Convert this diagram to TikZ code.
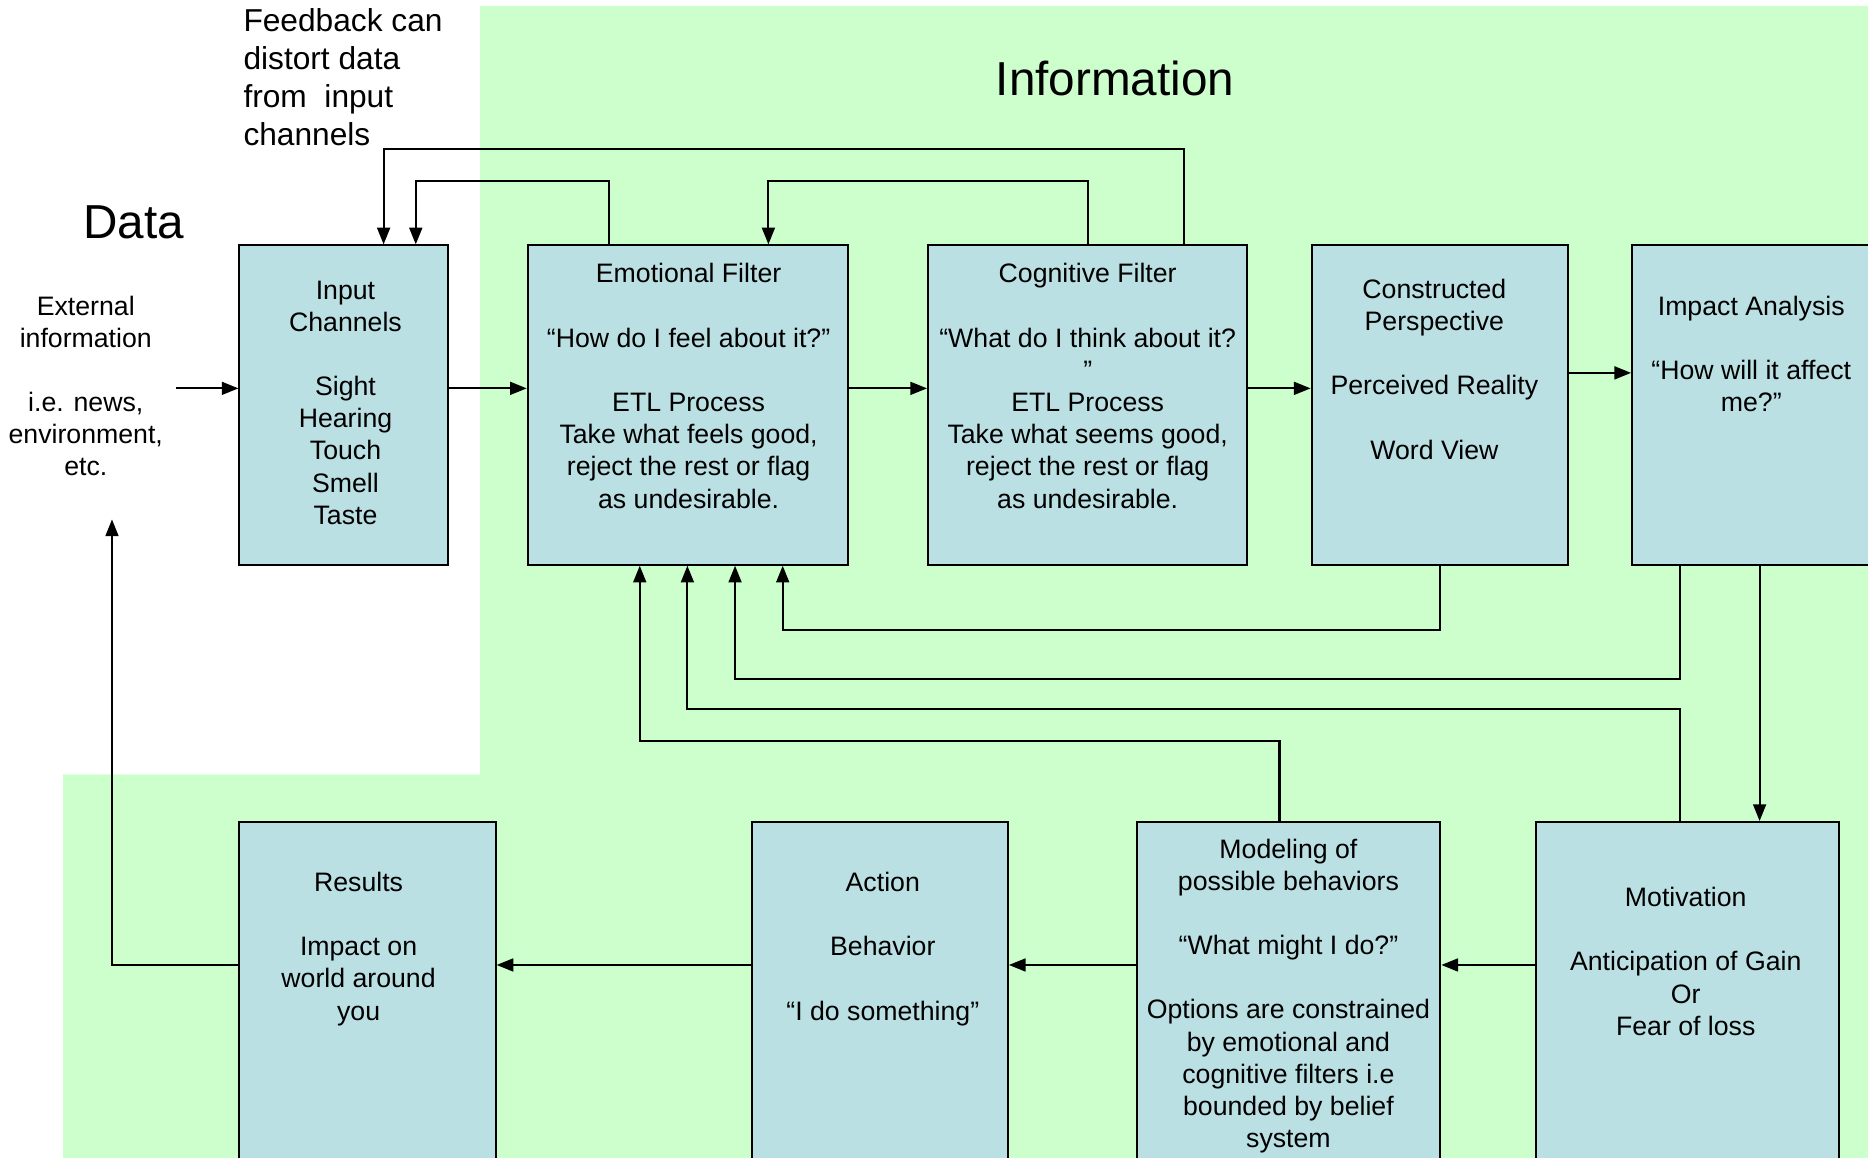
\documentclass[tikz,border=0pt]{standalone}
\usepackage{fontspec}
\setmainfont{Liberation Sans}
\usetikzlibrary{arrows.meta,fit}
\definecolor{zone}{RGB}{204,255,204}
\definecolor{boxfill}{RGB}{187,224,227}
\newcommand\bodyfont{\fontsize{11.2}{13.5}\selectfont}
\newcommand\notefont{\fontsize{13.3}{16}\selectfont}
\newcommand\titlefont{\fontsize{20}{24}\selectfont}
\tikzset{
  stagebox/.style={draw=black, line width=0.85pt, fill=boxfill, inner sep=0pt},
  txt/.style={align=center, inner sep=0pt, font=\bodyfont},
  arr/.style={line width=0.85pt, -{Triangle[length=7pt,width=5.4pt]}}
}
\begin{document}
\begin{tikzpicture}[x=0.5pt, y=-0.5pt]
\useasboundingbox (0,0) rectangle (1568,972);
% information zone
\fill[zone] (403,5) -- (1580,5) -- (1580,985) -- (53,985) -- (53,650) -- (403,650) -- cycle;

% titles and side notes
\node[inner sep=0pt, font=\titlefont] (infotitle) at (936,66) {Information};
\node[inner sep=0pt, font=\titlefont] (datatitle) at (112,187) {Data};
\node[inner sep=0pt, font=\notefont, align=left, anchor=west] (fbnote) at (204,65)
  {Feedback can\\distort data\\from~~input\\channels};
\node[txt] (ext) at (72,324)
  {External\\information\\[13.5pt]i.e. news,\\environment,\\etc.};

% top row
\node[stagebox, fit={(201,206) (376,474)}] (inp) {};
\node[stagebox, fit={(443,206) (712,474)}] (emo) {};
\node[stagebox, fit={(779,206) (1047,474)}] (cog) {};
\node[stagebox, fit={(1101,206) (1316,474)}] (con) {};
\node[stagebox, fit={(1370,206) (1574,474)}] (imp) {};

% bottom row
\node[stagebox, fit={(201,690) (416,980)}] (res) {};
\node[stagebox, fit={(631,690) (846,980)}] (act) {};
\node[stagebox, fit={(954,690) (1209,980)}] (mod) {};
\node[stagebox, fit={(1289,690) (1544,980)}] (mot) {};

% box texts
\node[txt] (inp-t) at (290,338)
  {Input\\Channels\\[13.5pt]Sight\\Hearing\\Touch\\Smell\\Taste};
\node[txt] (emo-t) at (578,324)
  {Emotional Filter\\[13.5pt]“How do I feel about it?”\\[13.5pt]ETL Process\\Take what feels good,\\reject the rest or flag\\as undesirable.};
\node[txt] (cog-t) at (913,324)
  {Cognitive Filter\\[13.5pt]“What do I think about it?\\”\\ETL Process\\Take what seems good,\\reject the rest or flag\\as undesirable.};
\node[txt] (con-t) at (1204,310)
  {Constructed\\Perspective\\[13.5pt]Perceived Reality\\[13.5pt]Word View};
\node[txt] (imp-t) at (1470,297)
  {Impact Analysis\\[13.5pt]“How will it affect\\me?”};
\node[txt] (res-t) at (301,796.5)
  {Results\\[13.5pt]Impact on\\world around\\you};
\node[txt] (act-t) at (741,796.5)
  {Action\\[13.5pt]Behavior\\[13.5pt]“I do something”};
\node[txt] (mod-t) at (1081.5,836)
  {Modeling of\\possible behaviors\\[13.5pt]“What might I do?”\\[13.5pt]Options are constrained\\by emotional and\\cognitive filters i.e\\bounded by belief\\system};
\node[txt] (mot-t) at (1415,807)
  {Motivation\\[13.5pt]Anticipation of Gain\\Or\\Fear of loss};

% free ends
\coordinate (extin) at (148,326);
\coordinate (backtip) at (94,436);

% forward flow, top row
\draw[arr] (extin) -- ([yshift=7pt]inp.west);
\draw[arr] ([yshift=7pt]inp.east) -- ([yshift=7pt]emo.west);
\draw[arr] ([yshift=7pt]emo.east) -- ([yshift=7pt]cog.west);
\draw[arr] ([yshift=7pt]cog.east) -- ([yshift=7pt]con.west);
\draw[arr] ([yshift=13.5pt]con.east) -- ([yshift=13.5pt]imp.west);
\draw[arr] ([xshift=2.5pt]imp.south) -- ([xshift=2.5pt]imp.south |- mot.north);

% forward flow, bottom row
\draw[arr] ([yshift=12.5pt]mot.west) -- ([yshift=12.5pt]mod.east);
\draw[arr] ([yshift=12.5pt]mod.west) -- ([yshift=12.5pt]act.east);
\draw[arr] ([yshift=12.5pt]act.west) -- ([yshift=12.5pt]res.east);
\draw[arr] ([yshift=12.5pt]res.west) -| (backtip);

% feedback over the top
\draw[arr] ([xshift=40.5pt]cog.north) -- ++(0,-80) -| ([xshift=16.75pt]inp.north);
\draw[arr] ([xshift=-33.25pt]emo.north) -- ++(0,-53) -| ([xshift=30.25pt]inp.north);
\draw[arr] (cog.north) -- ++(0,-53) -| ([xshift=33.75pt]emo.north);

% feedback into the emotional filter from below
\draw[arr] (con.south) -- ++(0,54) -| ([xshift=39.75pt]emo.south);
\draw[arr] ([xshift=-31pt]imp.south) -- ++(0,95) -| ([xshift=19.75pt]emo.south);
\draw[arr] ([xshift=-3.25pt]mot.north) -- ++(0,-94) -| ([xshift=-0.25pt]emo.south);
\draw[arr] ([xshift=-3.75pt]mod.north) -- ++(0,-67) -| ([xshift=-20.25pt]emo.south);
\end{tikzpicture}
\end{document}
